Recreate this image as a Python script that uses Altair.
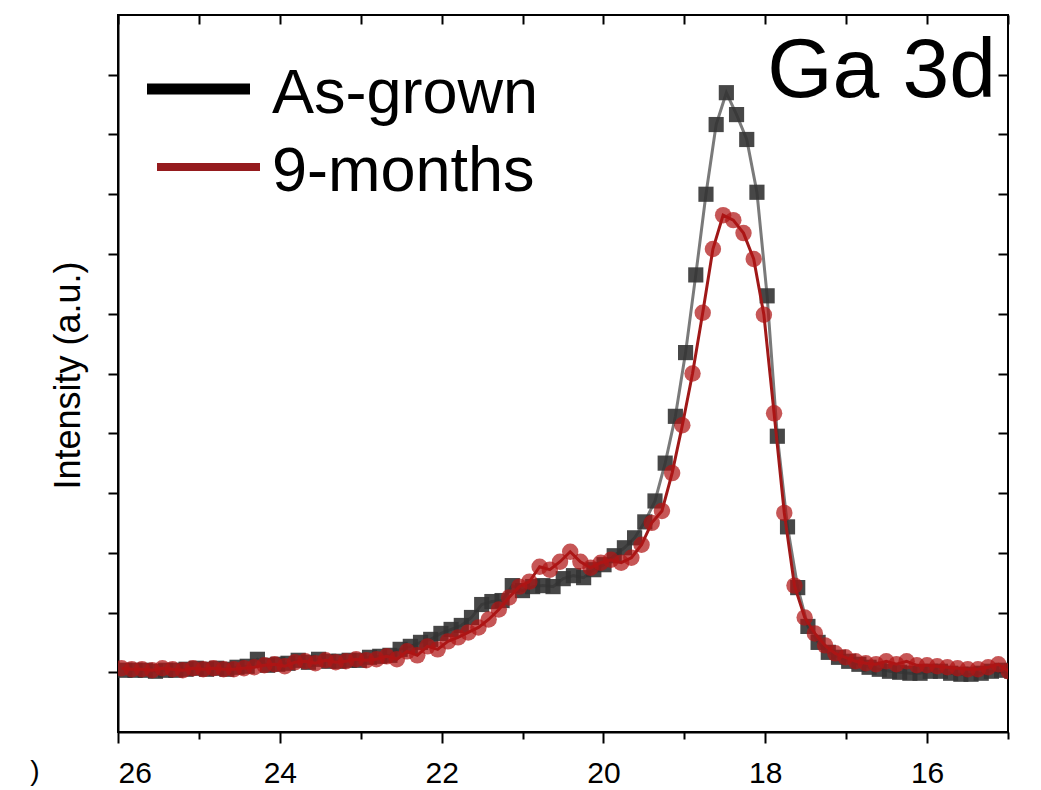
import altair as alt
import pandas as pd

# ---------------- data ----------------
series_names = ["As-grown", "9-months"]
panel_label = "Ga 3d"
y_title = "Intensity (a.u.)"
cut_title_tail = ")"

x_asgrown = [
    25.915, 25.789, 25.663, 25.537, 25.411, 25.285, 25.159, 25.033, 24.907, 24.781,
    24.655, 24.529, 24.403, 24.277, 24.151, 24.025, 23.899, 23.773, 23.647, 23.521,
    23.395, 23.269, 23.143, 23.017, 22.891, 22.765, 22.639, 22.513, 22.387, 22.261,
    22.135, 22.009, 21.883, 21.757, 21.631, 21.505, 21.379, 21.253, 21.127, 21.001,
    20.875, 20.749, 20.623, 20.497, 20.371, 20.245, 20.119, 19.993, 19.867, 19.741,
    19.615, 19.489, 19.363, 19.237, 19.111, 18.985, 18.859, 18.733, 18.607, 18.481,
    18.355, 18.229, 18.103, 17.977, 17.851, 17.725, 17.599, 17.473, 17.347, 17.221,
    17.095, 16.969, 16.843, 16.717, 16.591, 16.465, 16.339, 16.213, 16.087, 15.961,
    15.835, 15.709, 15.583, 15.457, 15.331, 15.205, 15.079, 14.953,
]
y_asgrown = [
    2, 2, 2, 1, 2, 2, 3, 4, 3, 4,
    3, 5, 6, 13, 7, 8, 9, 12, 10, 13,
    11, 11, 12, 12, 15, 16, 17, 23, 26, 30,
    33, 39, 43, 47, 55, 68, 71, 72, 87, 82,
    86, 87, 86, 94, 97, 95, 103, 108, 117, 125,
    135, 151, 172, 210, 257, 321, 399, 480, 550, 582,
    560, 535, 482, 378, 237, 146, 85, 46, 30, 20,
    15, 11, 8, 5, 3, 1, 0, -1, -1, 1,
    1, -1, -2, -2, -1, 1, 2, 1,
]

x_9months = [
    25.955, 25.829, 25.703, 25.577, 25.451, 25.325, 25.199, 25.073, 24.947, 24.821,
    24.695, 24.569, 24.443, 24.317, 24.191, 24.065, 23.939, 23.813, 23.687, 23.561,
    23.435, 23.309, 23.183, 23.057, 22.931, 22.805, 22.679, 22.553, 22.427, 22.301,
    22.175, 22.049, 21.923, 21.797, 21.671, 21.545, 21.419, 21.293, 21.167, 21.041,
    20.915, 20.789, 20.663, 20.537, 20.411, 20.285, 20.159, 20.033, 19.907, 19.781,
    19.655, 19.529, 19.403, 19.277, 19.151, 19.025, 18.899, 18.773, 18.647, 18.521,
    18.395, 18.269, 18.143, 18.017, 17.891, 17.765, 17.639, 17.513, 17.387, 17.261,
    17.135, 17.009, 16.883, 16.757, 16.631, 16.505, 16.379, 16.253, 16.127, 16.001,
    15.875, 15.749, 15.623, 15.497, 15.371, 15.245, 15.119, 14.993,
]
y_9months = [
    4, 3, 3, 2, 4, 3, 2, 4, 3, 4,
    3, 3, 4, 5, 7, 8, 6, 10, 11, 9,
    12, 10, 11, 13, 12, 13, 16, 13, 21, 17,
    26, 23, 31, 35, 40, 45, 53, 63, 75, 86,
    91, 106, 103, 111, 121, 111, 105, 110, 113, 110,
    115, 128, 150, 162, 200, 248, 300, 361, 425, 459,
    454, 441, 415, 359, 260, 160, 87, 55, 39, 27,
    19, 15, 11, 9, 8, 11, 8, 11, 7, 7,
    6, 5, 4, 3, 3, 5, 8, 1,
]

x_tick_values = [15, 16, 17, 18, 19, 20, 21, 22, 23, 24, 25, 26]
y_tick_values = [0, 60, 120, 180, 240, 300, 360, 420, 480, 540, 600]
x_domain = [15, 26]
y_domain = [-60, 660]

# ---------------- chart ----------------
FONT = "Liberation Sans"
df_a = pd.DataFrame({"be": x_asgrown, "I": y_asgrown})
df_m = pd.DataFrame({"be": x_9months, "I": y_9months})

xs = alt.Scale(domain=x_domain, reverse=True, nice=False, zero=False)
ys = alt.Scale(domain=y_domain, nice=False, zero=False)

ax_bottom = alt.Axis(
    orient="bottom", values=x_tick_values, title="",
    labelExpr="datum.value % 2 === 0 ? datum.label : ''",
    labelFont=FONT, labelFontSize=30, labelColor="black", labelPadding=15,
    labelOverlap=False, grid=False,
    domainColor="black", domainWidth=2,
    tickColor="black", tickWidth=2,
    tickSize={"condition": {"test": "datum.value % 2 === 0", "value": 11}, "value": 7},
)
ax_left = alt.Axis(
    orient="left", values=y_tick_values, labels=False, grid=False,
    domainColor="black", domainWidth=2, tickColor="black", tickWidth=2, tickSize=10,
    title=y_title, titleFont=FONT, titleFontSize=36, titleFontWeight="normal",
    titleColor="black", titleAngle=270, titleX=-50, titleY=360,
    titleAlign="center", titleBaseline="middle",
)
ax_top = alt.Axis(
    orient="top", values=x_tick_values, labels=False, grid=False, domain=False,
    tickColor="black", tickWidth=2, tickSize=9, offset=-9, title="",
)
ax_right = alt.Axis(
    orient="right", values=y_tick_values, labels=False, grid=False, domain=False,
    tickColor="black", tickWidth=2, tickSize=10, offset=-10, title="",
)

line_a = alt.Chart(df_a).mark_line(color="#7a7a7a", strokeWidth=3, clip=True).encode(
    x=alt.X("be:Q", scale=xs, axis=ax_bottom),
    y=alt.Y("I:Q", scale=ys, axis=ax_left),
)
pts_a = alt.Chart(df_a).mark_point(
    shape="square", filled=True, size=230, color="#333333", opacity=0.9, clip=True
).encode(
    x=alt.X("be:Q", scale=xs, axis=None),
    y=alt.Y("I:Q", scale=ys, axis=None),
)
line_m = alt.Chart(df_m).mark_line(color="#a01818", strokeWidth=3, clip=True).encode(
    x=alt.X("be:Q", scale=xs, axis=ax_top),
    y=alt.Y("I:Q", scale=ys, axis=ax_right),
)
pts_m = alt.Chart(df_m).mark_point(
    shape="circle", filled=True, size=270, color="#b01515", opacity=0.72, clip=True
).encode(
    x=alt.X("be:Q", scale=xs, axis=None),
    y=alt.Y("I:Q", scale=ys, axis=None),
)

one = pd.DataFrame({"k": [0]})
leg_line_a = alt.Chart(one).mark_rule(color="black", strokeWidth=11, strokeCap="butt").encode(
    x=alt.value(29), x2=alt.value(132), y=alt.value(74)
)
leg_line_m = alt.Chart(one).mark_rule(color="#951b1e", strokeWidth=8, strokeCap="butt").encode(
    x=alt.value(39), x2=alt.value(142), y=alt.value(152)
)
leg_text_a = alt.Chart(pd.DataFrame({"t": [series_names[0]]})).mark_text(
    font=FONT, fontSize=63, color="black", align="left", baseline="alphabetic"
).encode(text="t:N", x=alt.value(154), y=alt.value(98))
leg_text_m = alt.Chart(pd.DataFrame({"t": [series_names[1]]})).mark_text(
    font=FONT, fontSize=63, color="black", align="left", baseline="alphabetic"
).encode(text="t:N", x=alt.value(154), y=alt.value(176))
panel_text = alt.Chart(pd.DataFrame({"t": [panel_label]})).mark_text(
    font=FONT, fontSize=84, color="black", align="right", baseline="alphabetic"
).encode(text="t:N", x=alt.value(878), y=alt.value(82))
tail_text = alt.Chart(pd.DataFrame({"t": [cut_title_tail]})).mark_text(
    font=FONT, fontSize=28, color="black", align="center", baseline="middle"
).encode(text="t:N", x=alt.value(-83), y=alt.value(757))

chart = alt.layer(
    line_a, pts_a, line_m, pts_m,
    leg_line_a, leg_line_m, leg_text_a, leg_text_m, panel_text, tail_text,
).resolve_axis(x="independent", y="independent").properties(
    width=890, height=717,
    autosize=alt.AutoSizeParams(type="none"),
    padding={"left": 110, "top": 7, "right": 20, "bottom": 56},
    background="white",
).configure_view(stroke="black", strokeWidth=2)

chart.save("out.html", embed_options={"renderer": "svg", "actions": False})
